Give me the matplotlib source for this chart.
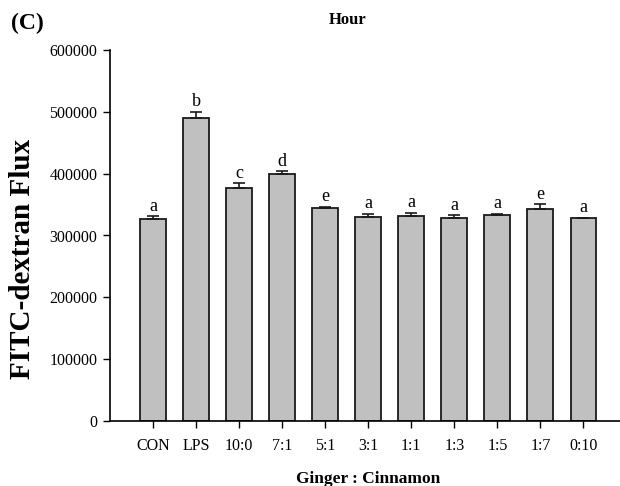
import numpy as np
import matplotlib.pyplot as plt

plt.rcParams['font.family'] = ['Liberation Serif', 'DejaVu Serif']

groups = ["CON", "LPS", "10:0", "7:1", "5:1", "3:1", "1:1", "1:3", "1:5", "1:7", "0:10"]
flux = [326000, 490000, 377000, 400000, 345000, 330000, 332000, 329000, 333000, 343500, 328000]
err = [5000, 10000, 8000, 4000, 1500, 5000, 5000, 4000, 2000, 7000, 1000]
letters = ["a", "b", "c", "d", "e", "a", "a", "a", "a", "e", "a"]


def main():
    fig = plt.figure(figsize=(6.2, 4.86), dpi=100)
    ax = fig.add_axes([110/620, 65/486, 1 - 110/620, 371/486])

    x = np.arange(len(groups))
    ax.bar(x, flux, width=0.6, color="#c0c0c0", edgecolor="#1a1a1a", linewidth=1.3, zorder=2)
    ax.errorbar(x, flux, yerr=[np.zeros(len(err)), err], fmt="none", ecolor="#1a1a1a",
                elinewidth=1.2, capsize=4, capthick=1.2, zorder=3)

    for xi, v, e, s in zip(x, flux, err, letters):
        ax.annotate(s, (xi, v + e), xytext=(0, 1), textcoords="offset points",
                    ha="center", va="bottom", fontsize=13)

    ax.set_xlim(-1.0, 10.85)
    ax.set_ylim(0, 600000)
    ax.set_yticks(np.arange(0, 600001, 100000))
    ax.set_xticks(x)
    ax.set_xticklabels(groups)
    ax.tick_params(axis="y", direction="out", length=5, width=1, labelsize=11.5, pad=4)
    ax.tick_params(axis="x", direction="out", length=5, width=1, labelsize=11.5, pad=7)

    for side in ["top", "right"]:
        ax.spines[side].set_visible(False)
    for side in ["left", "bottom"]:
        ax.spines[side].set_linewidth(1.2)

    # labels placed in figure pixels to follow the reference
    fig.text(23/620, 1 - 259/486, "FITC-dextran Flux", rotation=90, ha="center", va="center",
             fontsize=21, fontweight="bold")
    fig.text(368/620, 1 - 479/486, "Ginger : Cinnamon", ha="center", va="center",
             fontsize=12.5, fontweight="bold")
    fig.text(348/620, 1 - 20/486, "Hour", ha="center", va="center", fontsize=12, fontweight="bold")
    fig.text(11/620, 1 - 23/486, "(C)", ha="left", va="center", fontsize=17, fontweight="bold")

    fig.savefig("out.png", dpi=100)


if __name__ == "__main__":
    main()
